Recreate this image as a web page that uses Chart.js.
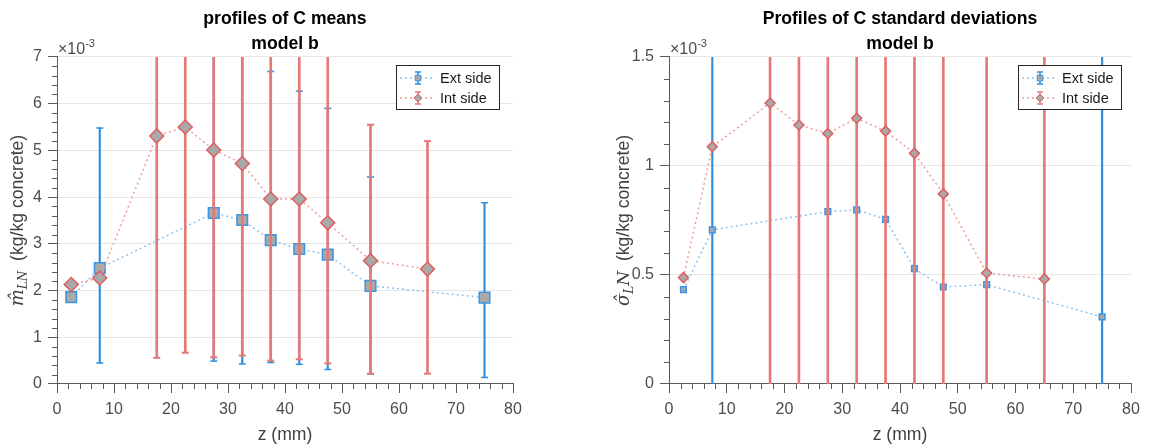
<!DOCTYPE html>
<html>
<head>
<meta charset="utf-8">
<title>C profiles, model b</title>
<script src="https://cdn.jsdelivr.net/npm/chart.js@4.4.1/dist/chart.umd.min.js"></script>
<style>
  body { margin: 0; background: #fff; }
  .panel { position: absolute; top: 0; width: 576px; height: 446px; }
</style>
</head>
<body>
<div class="panel" style="left:0"><canvas id="means" width="576" height="446"></canvas></div>
<div class="panel" style="left:576px"><canvas id="stds" width="576" height="446"></canvas></div>
<script>
// depth of the samples (mm)
const zExt = [2.5, 7.5, 27.5, 32.5, 37.5, 42.5, 47.5, 55, 75];
const zInt = [2.5, 7.5, 17.5, 22.5, 27.5, 32.5, 37.5, 42.5, 47.5, 55, 65];

// means, x1e-3 kg/kg concrete (null = no error bar)
const meanExt = [1.86, 2.48, 3.66, 3.51, 3.08, 2.89, 2.77, 2.10, 1.85];
const meanExtLow = [null, 0.45, 0.49, 0.43, 0.46, 0.42, 0.31, 0.21, 0.14];
const meanExtHigh = [null, 5.48, 9.6, 8.4, 6.69, 6.27, 5.90, 4.43, 3.88];
const meanInt = [2.13, 2.27, 5.31, 5.50, 5.01, 4.72, 3.96, 3.96, 3.45, 2.64, 2.46];
const meanIntLow = [null, null, 0.56, 0.67, 0.57, 0.61, 0.50, 0.53, 0.44, 0.22, 0.22];
const meanIntHigh = [null, null, 14.2, 13.5, 12.1, 11.0, 9.0, 8.8, 8.1, 5.55, 5.20];

// standard deviations, x1e-3 kg/kg concrete
const sdExt = [0.433, 0.707, 0.791, 0.799, 0.755, 0.529, 0.445, 0.456, 0.308];
const sdExtLow = [null, -2.0, null, null, null, null, null, null, -1.6];
const sdExtHigh = [null, 3.4, null, null, null, null, null, null, 2.9];
const sdInt = [0.488, 1.088, 1.289, 1.188, 1.149, 1.219, 1.160, 1.058, 0.872, 0.509, 0.482];
const sdIntLow = [null, null, -2.2, -2.0, -1.9, -2.1, -1.9, -1.8, -1.5, -1.1, -1.0];
const sdIntHigh = [null, null, 4.3, 4.0, 3.9, 4.1, 3.9, 3.6, 3.1, 2.4, 2.2];

const FONT = '"Liberation Sans", Arial, Helvetica, sans-serif';
const AXIS = "#5a5a5a";
const GRID = "#e6e6e6";
const TICK_TEXT = "#4d4d4d";
const MARKER_FILL = "#a9a9a9";
const EXT = { line: "#8cc3f0", edge: "#3a95e2", bar: "#2f8fde" };
const INT = { line: "#f09c9c", edge: "#df5f5f", bar: "#e67878" };

function isMultiple(v, step) {
  const r = v / step;
  return Math.abs(r - Math.round(r)) < 1e-6;
}

/**
 * floating bars for the error bar stems, plus "line" points for the caps
 */
function errorBars(xs, lo, hi, color, width, order) {
  const bars = [];
  const caps = [];
  xs.forEach((x, i) => {
    if (lo[i] === null) return;
    bars.push({ x: x, y: [lo[i], hi[i]] });
    caps.push({ x: x, y: lo[i] }, { x: x, y: hi[i] });
  });
  return [
    {
      type: "bar",
      data: bars,
      backgroundColor: color,
      barThickness: width,
      grouped: false,
      clip: 0,
      order: order + 1,
    },
    {
      type: "scatter",
      data: caps,
      pointStyle: "line",
      pointRadius: 3.5,
      pointBorderColor: color,
      pointBorderWidth: width,
      borderColor: color,
      clip: 0,
      order: order,
    },
  ];
}

function series(label, xs, ys, c, style, radius, order) {
  return {
    type: "line",
    label: label,
    data: xs.map((x, i) => ({ x: x, y: ys[i] })),
    borderColor: c.line,
    borderWidth: 1.5,
    borderDash: [2, 3],
    pointStyle: style,
    pointRadius: radius,
    pointBackgroundColor: MARKER_FILL,
    pointBorderColor: c.edge,
    pointBorderWidth: 1.5,
    order: order,
  };
}

// axis extras: minor ticks, x10^-3, math y label, boxed legend
const decor = {
  id: "decor",
  afterDraw(chart, args, o) {
    const { ctx, chartArea: a, scales } = chart;
    ctx.save();

    ctx.strokeStyle = AXIS;
    ctx.lineWidth = 1;
    ctx.beginPath();
    scales.x.ticks.forEach((t) => {
      if (isMultiple(t.value, o.xMajor)) return;
      const px = Math.round(scales.x.getPixelForValue(t.value)) + 0.5;
      ctx.moveTo(px, a.bottom);
      ctx.lineTo(px, a.bottom + 5);
    });
    scales.y.ticks.forEach((t) => {
      if (isMultiple(t.value, o.yMajor)) return;
      const py = Math.round(scales.y.getPixelForValue(t.value)) + 0.5;
      ctx.moveTo(a.left - 5, py);
      ctx.lineTo(a.left, py);
    });
    ctx.stroke();

    // exponent
    ctx.fillStyle = TICK_TEXT;
    ctx.textAlign = "left";
    ctx.textBaseline = "alphabetic";
    ctx.font = "16px " + FONT;
    ctx.fillText("\u00d710", a.left + 1, a.top - 3);
    const ew = ctx.measureText("\u00d710").width;
    ctx.font = "11px " + FONT;
    ctx.fillText("-3", a.left + 1 + ew, a.top - 10);

    // y label, rotated
    const parts = [
      { text: o.symbol, font: 'italic 18px "DejaVu Serif", serif', dy: 0 },
      { text: o.sub, font: 'italic 12px "DejaVu Serif", serif', dy: 4 },
      { text: o.after, font: 'italic 17px "DejaVu Serif", serif', dy: 0 },
      { text: "  (kg/kg concrete)", font: "17.6px " + FONT, dy: 0 },
    ];
    let total = 0;
    parts.forEach((p) => {
      ctx.font = p.font;
      p.w = ctx.measureText(p.text).width;
      total += p.w;
    });
    ctx.save();
    ctx.translate(o.yLabelX, (a.top + a.bottom) / 2);
    ctx.rotate(-Math.PI / 2);
    ctx.fillStyle = "#404040";
    let x0 = -total / 2;
    parts.forEach((p) => {
      ctx.font = p.font;
      ctx.fillText(p.text, x0, 6 + p.dy);
      x0 += p.w;
    });
    ctx.restore();

    // legend
    ctx.font = "14.5px " + FONT;
    const tw = Math.max(...o.legend.map((it) => ctx.measureText(it.label).width));
    const bw = Math.round(44 + tw + 7);
    const bh = 44;
    const bx = Math.round(a.right - o.legendInset - bw);
    const by = Math.round(a.top + 8);
    ctx.fillStyle = "#fff";
    ctx.fillRect(bx, by, bw, bh);
    ctx.strokeStyle = "#262626";
    ctx.lineWidth = 1;
    ctx.strokeRect(bx + 0.5, by + 0.5, bw, bh);
    o.legend.forEach((it, i) => {
      const cy = by + 13 + i * 20;
      const mx = bx + 22;
      ctx.strokeStyle = it.line;
      ctx.lineWidth = 1.5;
      ctx.setLineDash([2, 3]);
      ctx.beginPath();
      ctx.moveTo(bx + 4, cy);
      ctx.lineTo(bx + 39, cy);
      ctx.stroke();
      ctx.setLineDash([]);
      ctx.strokeStyle = it.bar;
      ctx.beginPath();
      ctx.moveTo(mx, cy - 6);
      ctx.lineTo(mx, cy + 6);
      ctx.moveTo(mx - 3, cy - 6);
      ctx.lineTo(mx + 3, cy - 6);
      ctx.moveTo(mx - 3, cy + 6);
      ctx.lineTo(mx + 3, cy + 6);
      ctx.stroke();
      ctx.fillStyle = MARKER_FILL;
      ctx.strokeStyle = it.edge;
      ctx.lineWidth = 1;
      Chart.helpers.drawPoint(ctx, { pointStyle: it.shape, radius: 4, borderWidth: 1, rotation: 0 }, mx, cy);
      ctx.fillStyle = "#1a1a1a";
      ctx.textBaseline = "middle";
      ctx.fillText(it.label, bx + 44, cy + 1);
    });

    ctx.restore();
  },
};

function makeChart(id, cfg) {
  const ctx = document.getElementById(id).getContext("2d");
  return new Chart(ctx, {
    type: "scatter",
    data: { datasets: cfg.datasets },
    plugins: [decor],
    options: {
      responsive: false,
      animation: false,
      events: [],
      devicePixelRatio: 1,
      layout: { padding: { left: 0, right: cfg.rightPad, top: 0, bottom: 0 } },
      scales: {
        x: {
          type: "linear",
          min: 0,
          max: 80,
          offset: false,
          afterFit: (s) => {
            s.height = 62;
          },
          ticks: {
            stepSize: 2,
            autoSkip: false,
            maxRotation: 0,
            padding: 7,
            color: TICK_TEXT,
            font: { family: FONT, size: 16 },
            callback: (v) => (isMultiple(v, 10) ? String(v) : ""),
          },
          grid: {
            offset: false,
            drawOnChartArea: false,
            tickLength: 9,
            tickColor: (c) => (c.tick && isMultiple(c.tick.value, 10) ? AXIS : "transparent"),
          },
          border: { color: AXIS },
          title: {
            display: true,
            text: "z (mm)",
            color: "#404040",
            font: { family: FONT, size: 17.6 },
            padding: { top: 0, bottom: 0 },
          },
        },
        y: {
          type: "linear",
          min: 0,
          max: cfg.yMax,
          afterFit: (s) => {
            s.width = cfg.yWidth;
          },
          ticks: {
            stepSize: cfg.yStep,
            autoSkip: false,
            padding: 6,
            color: TICK_TEXT,
            font: { family: FONT, size: 16 },
            callback: (v) => (isMultiple(v, cfg.yMajor) ? String(v) : ""),
          },
          grid: {
            tickLength: 9,
            color: (c) => (c.tick && c.tick.value > 0 && isMultiple(c.tick.value, cfg.yMajor) ? GRID : "transparent"),
            tickColor: (c) => (c.tick && isMultiple(c.tick.value, cfg.yMajor) ? AXIS : "transparent"),
          },
          border: { color: AXIS },
        },
      },
      plugins: {
        legend: { display: false },
        tooltip: { enabled: false },
        title: {
          display: true,
          fullSize: false,
          text: cfg.title,
          color: "#000",
          font: { family: FONT, size: 17.6, weight: "bold", lineHeight: 1.42 },
          padding: { top: 7, bottom: 0 },
        },
        decor: {
          xMajor: 10,
          yMajor: cfg.yMajor,
          yLabelX: cfg.yLabelX,
          symbol: cfg.symbol,
          sub: cfg.sub,
          after: cfg.after,
          legendInset: cfg.legendInset,
          legend: [
            { label: "Ext side", line: EXT.line, edge: EXT.edge, bar: EXT.bar, shape: "rect" },
            { label: "Int side", line: INT.line, edge: INT.edge, bar: INT.bar, shape: "rectRot" },
          ],
        },
      },
    },
  });
}

makeChart("means", {
  title: ["profiles of C means", "model b"],
  yMax: 7,
  yStep: 0.2,
  yMajor: 1,
  yWidth: 57,
  rightPad: 63,
  yLabelX: 17,
  symbol: "m\u0302",
  sub: "LN",
  after: "",
  legendInset: 14,
  datasets: [
    ...errorBars(zExt, meanExtLow, meanExtHigh, EXT.bar, 1.5, 5),
    series("Ext side", zExt, meanExt, EXT, "rect", 7.5, 4),
    ...errorBars(zInt, meanIntLow, meanIntHigh, INT.bar, 2, 2),
    series("Int side", zInt, meanInt, INT, "rectRot", 7, 1),
  ],
});

makeChart("stds", {
  title: ["Profiles of C standard deviations", "model b"],
  yMax: 1.5,
  yStep: 0.1,
  yMajor: 0.5,
  yWidth: 93,
  rightPad: 21,
  yLabelX: 47,
  symbol: "\u03c3\u0302",
  sub: "L",
  after: "N",
  legendInset: 10,
  datasets: [
    ...errorBars(zExt, sdExtLow, sdExtHigh, EXT.bar, 1.5, 5),
    series("Ext side", zExt, sdExt, EXT, "rect", 4, 4),
    ...errorBars(zInt, sdIntLow, sdIntHigh, INT.bar, 2, 2),
    series("Int side", zInt, sdInt, INT, "rectRot", 5, 1),
  ],
});
</script>
</body>
</html>
